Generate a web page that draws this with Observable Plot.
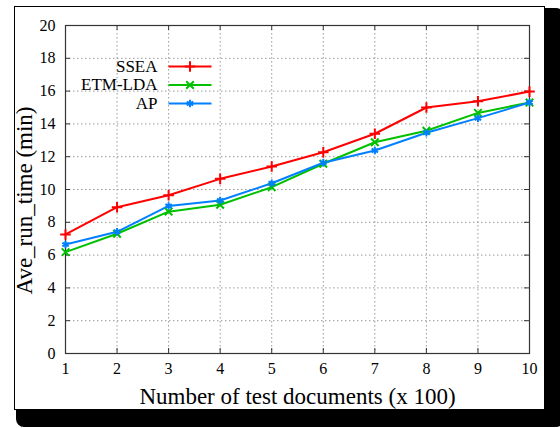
<!DOCTYPE html>
<html><head><meta charset="utf-8">
<script src="https://cdn.jsdelivr.net/npm/d3@7"></script>
<script src="https://cdn.jsdelivr.net/npm/@observablehq/plot@0.6"></script>
<style>
html,body{margin:0;padding:0;background:#fff;}
#wrap{position:relative;width:560px;height:428px;overflow:hidden;}
#shadow{position:absolute;left:16px;top:8px;width:548px;height:419px;background:#000;border-radius:8px;}
#box{position:absolute;left:14px;top:6px;width:529px;height:402px;background:#fff;border:1px solid #000;}
#chart{position:absolute;left:0;top:0;}
</style></head><body>
<div id="wrap"><div id="shadow"></div><div id="box"></div><div id="chart"></div></div>
<script>
const docs = [1, 2, 3, 4, 5, 6, 7, 8, 9, 10];
const ssea = [7.26, 8.92, 9.65, 10.65, 11.4, 12.27, 13.4, 15.0, 15.38, 15.97];
const etmLda = [6.18, 7.3, 8.65, 9.07, 10.14, 11.57, 12.88, 13.58, 14.67, 15.3];
const ap = [6.65, 7.42, 9.0, 9.33, 10.38, 11.63, 12.38, 13.46, 14.35, 15.3];
const seriesNames = ["SSEA", "ETM-LDA", "AP"];
const seriesColors = ["#ff0000", "#00c000", "#0080ff"];
const seriesSymbols = ["plus", "times", "asterisk"];
const xTicks = [1, 2, 3, 4, 5, 6, 7, 8, 9, 10];
const yTicks = [0, 2, 4, 6, 8, 10, 12, 14, 16, 18, 20];
const xLabel = "Number of test documents (x 100)";
const yLabel = "Ave_run_time (min)";

const seriesValues = [ssea, etmLda, ap];
const rows = [];
seriesNames.forEach((name, i) => {
  docs.forEach((d, j) => rows.push({series: name, docs: d, value: seriesValues[i][j]}));
});

const frameW = 560 - 65 - 31, frameH = 428 - 25 - 75, tk = 5;
const lineSymbol = {draw(ctx) { ctx.moveTo(-21.5, 0); ctx.lineTo(21.5, 0); }};
const gridStyle = {stroke: "#999", strokeOpacity: 1, strokeDasharray: "1.5,2.5", strokeWidth: 1};
const tickStyle = {stroke: "#333", strokeWidth: 1};

const legendMarks = seriesNames.flatMap((name, i) => {
  const dy = 41 + i * 18.5;
  return [
    Plot.dot([name], {frameAnchor: "top-left", dx: 124.5, dy, symbol: lineSymbol, stroke: seriesColors[i], strokeWidth: 2, r: 4}),
    Plot.dot([name], {frameAnchor: "top-left", dx: 124.5, dy, symbol: seriesSymbols[i], stroke: seriesColors[i], strokeWidth: 2, r: 3.5}),
    Plot.text([name], {frameAnchor: "top-left", dx: 92, dy, text: d => d, textAnchor: "end", lineAnchor: "middle", fontSize: 17, fill: "#000"})
  ];
});

const chart = Plot.plot({
  width: 560, height: 428,
  marginLeft: 65, marginRight: 31, marginTop: 25, marginBottom: 75,
  style: {fontFamily: "'Liberation Serif', 'Times New Roman', serif", fontSize: "16px", background: "transparent", color: "#000"},
  x: {domain: [1, 10]},
  y: {domain: [0, 20]},
  color: {domain: seriesNames, range: seriesColors},
  symbol: {domain: seriesNames, range: seriesSymbols},
  marks: [
    Plot.gridX(xTicks.slice(1, -1), gridStyle),
    Plot.gridY(yTicks.slice(1, -1), gridStyle),
    Plot.ruleX(xTicks, {x: d => d, insetTop: frameH - tk, ...tickStyle}),
    Plot.ruleX(xTicks, {x: d => d, insetBottom: frameH - tk, ...tickStyle}),
    Plot.ruleY(yTicks, {y: d => d, insetRight: frameW - tk, ...tickStyle}),
    Plot.ruleY(yTicks, {y: d => d, insetLeft: frameW - tk, ...tickStyle}),
    Plot.axisX(xTicks, {anchor: "bottom", tickSize: 0, tickPadding: 9, label: null, fontSize: 16}),
    Plot.axisY(yTicks, {anchor: "left", tickSize: 0, tickPadding: 10, label: null, fontSize: 16}),
    Plot.frame({stroke: "#333", strokeWidth: 1.2}),
    Plot.line(rows, {x: "docs", y: "value", z: "series", stroke: "series", strokeWidth: 2}),
    Plot.dot(rows, {x: "docs", y: "value", symbol: "series", stroke: "series", strokeWidth: 2, r: 3.5}),
    Plot.text([yLabel], {frameAnchor: "left", dx: -41, dy: 11, rotate: -90, textAnchor: "middle", lineAnchor: "middle", fontSize: 23, text: d => d, fill: "#000"}),
    Plot.text([xLabel], {frameAnchor: "bottom", dy: 43, textAnchor: "middle", lineAnchor: "middle", fontSize: 23, text: d => d, fill: "#000"}),
    ...legendMarks
  ]
});
document.getElementById("chart").appendChild(chart);
</script>
</body></html>
